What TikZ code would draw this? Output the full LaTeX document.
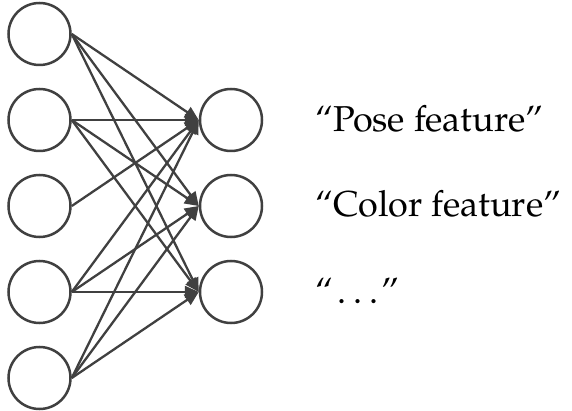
\documentclass[tikz,border=0pt]{standalone}
\usepackage{fontspec}
\setmainfont{TeX Gyre Pagella}
\usetikzlibrary{arrows.meta}
\definecolor{ink}{HTML}{404040}
\tikzset{
  neuron/.style={circle, draw=ink, line width=2.5pt, minimum size=62pt, inner sep=0pt},
  conn/.style={draw=ink, line width=2.3pt, -{Triangle[length=14pt,width=12pt]}},
  lbl/.style={anchor=base west, inner sep=0pt, font=\fontsize{36}{40}\selectfont}
}
\begin{document}
\begin{tikzpicture}[x=1pt,y=-1pt]
\useasboundingbox (0,0) rectangle (572,411);
\node[neuron] (l1) at (39.5,34) {};
\node[neuron] (l2) at (39.5,120) {};
\node[neuron] (l3) at (39.5,206) {};
\node[neuron] (l4) at (39.5,292) {};
\node[neuron] (l5) at (39.5,378) {};
\node[neuron] (r1) at (231,120) {};
\node[neuron] (r2) at (231,206) {};
\node[neuron] (r3) at (231,292) {};
\foreach \s in {l1,l2,l4,l5}{
  \foreach \t in {r1,r2,r3}{
    \draw[conn] (\s.east) -- (\t.west);
  }
}
\draw[conn] (l3.east) -- (r1.west);
\node[lbl] (t1) at (315,132) {“Pose feature”};
\node[lbl] (t2) at (315,217) {“Color feature”};
\node[lbl] (t3) at (315,303) {“\kern4pt.\kern7pt.\kern7pt.\kern3pt”};
\end{tikzpicture}
\end{document}
